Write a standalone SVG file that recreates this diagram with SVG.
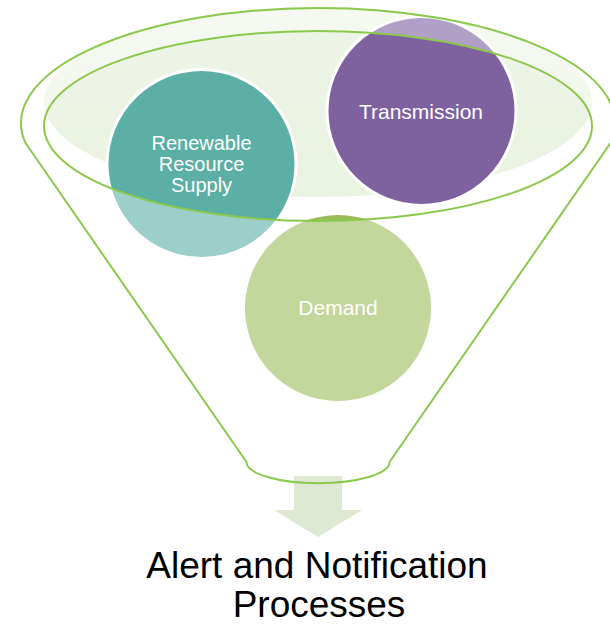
<svg xmlns="http://www.w3.org/2000/svg" width="610" height="625" viewBox="0 0 610 625">
  <defs>
    <linearGradient id="bowlFill" x1="0" y1="0" x2="0" y2="1">
      <stop offset="0" stop-color="#EEF5E8"/>
      <stop offset="1" stop-color="#EAF2E1"/>
    </linearGradient>
    <style>
      .rim { fill: none; stroke: #8CC84B; stroke-width: 2; }
      .veil { fill: #FFFFFF; fill-opacity: 0.4; fill-rule: evenodd; stroke: none; }
      .ball { stroke: #FFFFFF; stroke-width: 3; }
      .label { font-family: "Liberation Sans", Arial, sans-serif; fill: #FFFFFF; text-anchor: middle; }
      .caption { font-family: "Liberation Sans", Arial, sans-serif; fill: #000000; text-anchor: middle; font-size: 37px; }
    </style>
  </defs>

  <rect width="610" height="625" fill="#FFFFFF"/>

  <!-- inside of the funnel mouth -->
  <ellipse cx="318" cy="102" rx="274" ry="95" fill="url(#bowlFill)"/>

  <!-- items poured into the funnel -->
  <g id="renewable">
    <circle class="ball" cx="201.5" cy="164" r="94.5" fill="#5BAFA5"/>
    <text class="label" font-size="20" x="201.5" y="150">Renewable</text>
    <text class="label" font-size="20" x="201.5" y="171">Resource</text>
    <text class="label" font-size="20" x="201.5" y="192">Supply</text>
  </g>
  <g id="transmission">
    <circle class="ball" cx="421.5" cy="111" r="94.5" fill="#7E62A0"/>
    <text class="label" font-size="21" x="421" y="119">Transmission</text>
  </g>
  <g id="demand">
    <circle class="ball" cx="338" cy="308" r="94.5" fill="#9BBB59"/>
    <text class="label" font-size="21" x="338" y="315">Demand</text>
  </g>

  <!-- funnel body: translucent shell with the mouth cut out -->
  <g id="funnel">
    <path class="veil" d="M25.5,143 L246.5,462 A71 21 0 0 0 389.5,462 L610.5,143 A297 115 0 1 0 25.5,143 Z M44,126 A274 95 0 1 0 592,126 A274 95 0 1 0 44,126 Z"/>
  </g>

  <!-- output arrow -->
  <g id="connectors">
    <polygon points="294,476 342,476 342,510 362,510 318,537 274,510 294,510" fill="#DFE8D3"/>
  </g>

  <!-- funnel outlines -->
  <g id="funnel-outline">
    <path class="rim" d="M25.5,143 L246.5,462 A71 21 0 0 0 389.5,462 L610.5,143 A297 115 0 1 0 25.5,143"/>
    <ellipse class="rim" cx="318" cy="126" rx="274" ry="95"/>
  </g>

  <g id="result">
    <text class="caption" x="317" y="578">Alert and Notification</text>
    <text class="caption" x="319" y="617">Processes</text>
  </g>
</svg>
